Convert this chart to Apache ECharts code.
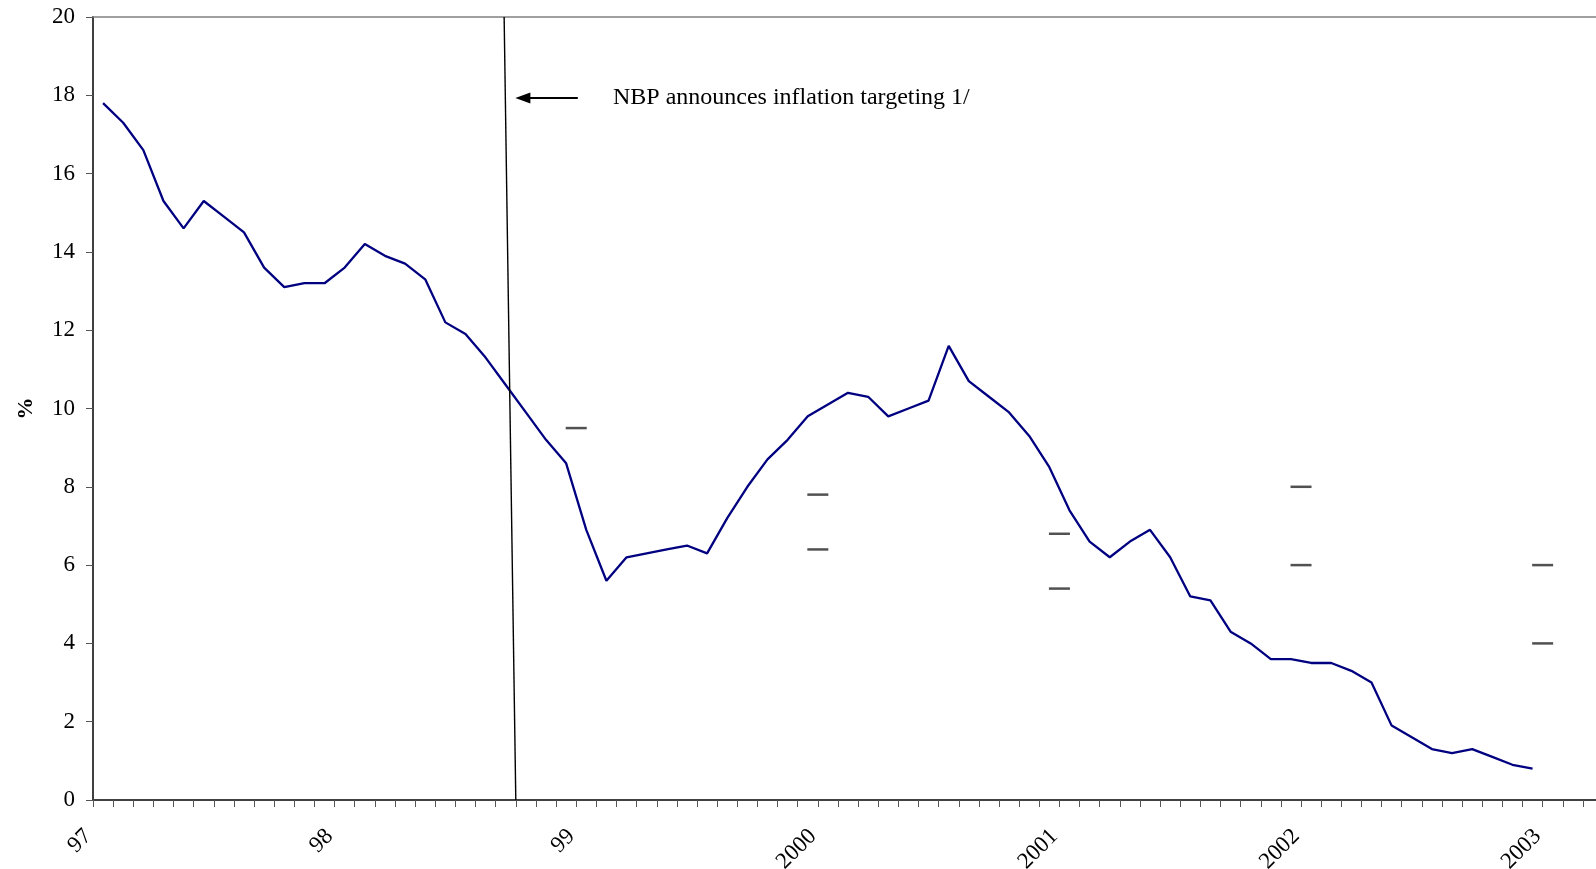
<!DOCTYPE html>
<html>
<head>
<meta charset="utf-8">
<script src="https://cdn.jsdelivr.net/npm/echarts@6/dist/echarts.min.js"></script>
<style>
html,body{margin:0;padding:0;background:#fff;}
#chart{width:1596px;height:869px;}
</style>
</head>
<body>
<div id="chart"></div>
<script>
// Monthly CPI inflation (% y/y), Jan 1997 - Dec 2002
var cpi = [17.8, 17.3, 16.6, 15.3, 14.6, 15.3, 14.9, 14.5, 13.6, 13.1, 13.2, 13.2,
           13.6, 14.2, 13.9, 13.7, 13.3, 12.2, 11.9, 11.3, 10.6, 9.9, 9.2, 8.6,
           6.9, 5.6, 6.2, 6.3, 6.4, 6.5, 6.3, 7.2, 8.0, 8.7, 9.2, 9.8,
           10.1, 10.4, 10.3, 9.8, 10.0, 10.2, 11.6, 10.7, 10.3, 9.9, 9.3, 8.5,
           7.4, 6.6, 6.2, 6.6, 6.9, 6.2, 5.2, 5.1, 4.3, 4.0, 3.6, 3.6,
           3.5, 3.5, 3.3, 3.0, 1.9, 1.6, 1.3, 1.2, 1.3, 1.1, 0.9, 0.8];
// Year labels at the start of each year
var yearLabels = ['97', '98', '99', '2000', '2001', '2002', '2003'];
// Inflation targets (band ends / point), one per target year 1999..2003
var targetYearIdx = [2, 3, 4, 5, 6];
var targetUpper = [9.5, 7.8, 6.8, 8.0, 6.0];
var targetLower = [null, 6.4, 5.4, 6.0, 4.0];
// Annotation
var announceText = 'NBP announces inflation targeting 1/';
var announceLineTop = 20.42, announceLineBottom = 21.0; // month-axis units
var arrowTip = 21.35, arrowTail = 24.08, arrowLevel = 17.93, textX = 25.8;

var lineData = cpi.map(function (v, i) { return [i + 0.5, v]; });
var targetData = [];
targetYearIdx.forEach(function (y, k) {
  targetData.push([y * 12, targetUpper[k]]);
  if (targetLower[k] != null) targetData.push([y * 12, targetLower[k]]);
});

var FONT = 'Liberation Serif';
var chart = echarts.init(document.getElementById('chart'));
chart.setOption({
  animation: false,
  backgroundColor: '#fff',
  grid: { left: 93, top: 17, right: 0, bottom: 69, containLabel: false, outerBoundsMode: 'none' },
  xAxis: {
    type: 'value', min: 0, max: 74.65, interval: 1,
    axisLine: { show: true, lineStyle: { color: '#404040', width: 2 } },
    axisTick: { show: true, length: 7, lineStyle: { color: '#555', width: 1 } },
    splitLine: { show: false },
    axisLabel: {
      rotate: 45, margin: 28, fontFamily: FONT, fontSize: 23, color: '#000',
      padding: [0, 7, 0, 0],
      showMinLabel: true, showMaxLabel: true,
      formatter: function (v) {
        var r = Math.round(v);
        if (Math.abs(v - r) > 1e-6 || r % 12 !== 0) return '';
        return yearLabels[r / 12] || '';
      }
    }
  },
  yAxis: {
    type: 'value', min: 0, max: 20, interval: 2,
    name: '%', nameLocation: 'middle', nameGap: 56, nameRotate: 90,
    nameTextStyle: { fontFamily: FONT, fontSize: 22, fontWeight: 'bold', color: '#000' },
    axisLine: { show: true, lineStyle: { color: '#404040', width: 2 } },
    axisTick: { show: true, length: 7, lineStyle: { color: '#555', width: 1 } },
    splitLine: { show: false },
    axisLabel: { margin: 18, fontFamily: FONT, fontSize: 23, color: '#000' }
  },
  series: [
    {
      type: 'line', data: lineData, symbol: 'none',
      lineStyle: { color: '#000080', width: 2.3 },
      z: 3,
      markLine: {
        silent: true, animation: false,
        symbol: ['none', 'none'],
        label: { show: false },
        data: [
          [{ coord: [0, 20], lineStyle: { color: '#808080', width: 1.5, type: 'solid' } },
           { coord: [74.65, 20] }],
          [{ coord: [announceLineTop, 20], lineStyle: { color: '#000', width: 1.4, type: 'solid' } },
           { coord: [announceLineBottom, 0] }],
          [{ coord: [arrowTip, arrowLevel], symbol: 'triangle', symbolSize: [11, 15],
             lineStyle: { color: '#000', width: 2.2, type: 'solid' }, itemStyle: { color: '#000' } },
           { coord: [arrowTail, arrowLevel], symbol: 'none' }]
        ]
      },
      markPoint: {
        silent: true, animation: false,
        data: [{
          coord: [textX, arrowLevel], symbol: 'circle', symbolSize: 1,
          itemStyle: { color: 'rgba(0,0,0,0)' },
          label: { show: true, position: 'right', distance: 0, formatter: announceText,
                   fontFamily: FONT, fontSize: 24, color: '#000' }
        }]
      }
    },
    {
      type: 'scatter', data: targetData, symbol: 'rect', symbolSize: [21, 2.5],
      itemStyle: { color: '#262626' }, z: 4
    }
  ]
});
</script>
</body>
</html>
